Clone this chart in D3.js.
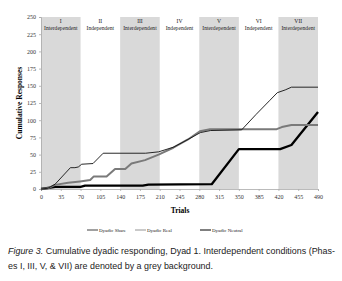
<!DOCTYPE html>
<html>
<head>
<meta charset="utf-8">
<script src="https://cdn.jsdelivr.net/npm/d3@7"></script>
<style>
  body { margin: 0; background: #fff; }
  svg { display: block; }
</style>
</head>
<body>
<div id="chart"></div>
<script>
// phases (70 trials each)
const phaseNames = ['I','II','III','IV','V','VI','VII'];
const phaseTypes = ['Interdependent','Independent','Interdependent','Independent','Interdependent','Independent','Interdependent'];
const xTicks = [0,35,70,105,140,175,210,245,280,315,350,385,420,455,490];
const yTicks = [0,25,50,75,100,125,150,175,200,225,250];

// series
const shareTrials = [0,12,25,52,60,66,72,92,110,185,208,235,260,282,300,355,380,405,418,432,443,490];
const shareValues = [0,1,7,31,31,32,36,37,52,52,54,61,72,82,85,86,108,129,140,144,148,148];
const realTrials = [0,12,25,48,69,87,93,116,131,149,160,184,208,234,260,281,299,417,426,443,490];
const realValues = [0,1,6,9,11,13,18,18,29,29,37,42,50,60,72,84,87,87,90,93,93];
const neutralTrials = [0,25,70,78,180,190,302,350,423,443,490];
const neutralValues = [0,3,3,5,5,6.5,7,58,58,64,112];

const W = 342, H = 281;
const svg = d3.select('#chart').append('svg').attr('width', W).attr('height', H);

var x = d3.scaleLinear().domain([0, 490]).range([41, 318]);
var y = d3.scaleLinear().domain([0, 250]).range([189, 17]);

// grey backgrounds for interdependent phases
svg.selectAll('.band')
  .data(phaseNames.map((p, i) => ({p: p, i: i})).filter(d => d.i % 2 === 0))
  .enter().append('rect')
    .attr('x', d => x(d.i * 70))
    .attr('width', d => x((d.i + 1) * 70) - x(d.i * 70))
    .attr('y', y(250))
    .attr('height', y(0) - y(250))
    .attr('fill', '#d9d9d9');

// phase labels
var lab = svg.selectAll('.phase')
  .data(phaseNames)
  .enter().append('g')
    .attr('transform', (d, i) => 'translate(' + x(i * 70 + 35) + ',0)');
lab.append('text').attr('y', 23).text(d => d);
lab.append('text').attr('y', 29.5).text((d, i) => phaseTypes[i]);
lab.selectAll('text')
  .attr('text-anchor', 'middle')
  .style('font-family', 'Liberation Serif, serif')
  .style('font-size', '5.6px')
  .style('fill', '#222');

// axes
var yAxis = svg.append('g')
  .attr('transform', 'translate(' + x(0) + ',0)')
  .call(d3.axisLeft(y).tickValues(yTicks).tickSize(2).tickPadding(3));
var xAxis = svg.append('g')
  .attr('transform', 'translate(0,' + y(0) + ')')
  .call(d3.axisBottom(x).tickValues(xTicks).tickSize(2).tickPadding(4));
[yAxis, xAxis].forEach(a => {
  a.select('.domain').attr('stroke', '#aaa').attr('stroke-width', 0.8);
  a.selectAll('.tick line').attr('stroke', '#aaa').attr('stroke-width', 0.8);
  a.selectAll('text')
    .style('font-family', 'Liberation Serif, serif')
    .style('font-size', '6px')
    .style('fill', '#333');
});

// lines
var line = d3.line().x(d => x(d[0])).y(d => y(d[1]));
const series = [
  {name: 'Dyadic Share', t: shareTrials, v: shareValues, color: '#111', w: 0.9, lw: 0.8},
  {name: 'Dyadic Real', t: realTrials, v: realValues, color: '#7a7a7a', w: 2, lw: 0.8},
  {name: 'Dyadic Neutral', t: neutralTrials, v: neutralValues, color: '#000', w: 2.3, lw: 1}
];
[series[2], series[1], series[0]].forEach(s => {
  svg.append('path')
    .datum(s.t.map((t, i) => [t, s.v[i]]))
    .attr('d', line)
    .attr('fill', 'none')
    .attr('stroke', s.color)
    .attr('stroke-width', s.w)
    .attr('stroke-linejoin', 'round');
});

// axis titles
svg.append('text')
  .attr('transform', 'translate(22,' + y(125) + ') rotate(-90)')
  .attr('text-anchor', 'middle')
  .style('font-family', 'Liberation Serif, serif')
  .style('font-weight', 'bold')
  .style('font-size', '7.5px')
  .text('Cumulative Responses');
svg.append('text')
  .attr('x', 180).attr('y', 213)
  .attr('text-anchor', 'middle')
  .style('font-family', 'Liberation Serif, serif')
  .style('font-weight', 'bold')
  .style('font-size', '7.5px')
  .text('Trials');

// legend
const legX = [87, 135, 200];
var leg = svg.selectAll('.leg')
  .data(series)
  .enter().append('g')
    .attr('transform', (d, i) => 'translate(' + legX[i] + ',230)');
leg.append('line')
  .attr('x1', 0).attr('x2', 11).attr('y1', 0).attr('y2', 0)
  .attr('stroke', d => d.color)
  .attr('stroke-width', d => d.lw);
leg.append('text')
  .attr('x', 12).attr('y', 1.8)
  .style('font-family', 'Liberation Serif, serif')
  .style('font-size', '5px')
  .style('fill', '#222')
  .text(d => d.name);

// caption (condensed face not installed, so squeeze to the original width)
function capStyle(t) {
  t.style('font-family', 'Liberation Sans, Arial, sans-serif')
   .style('font-size', '9.4px')
   .style('fill', '#222')
   .attr('lengthAdjust', 'spacingAndGlyphs');
}
var l1 = svg.append('text')
  .attr('x', 8).attr('y', 254)
  .attr('textLength', 327)
  .call(capStyle);
l1.append('tspan').style('font-style', 'italic').text('Figure 3.');
l1.append('tspan').text(' Cumulative dyadic responding, Dyad 1. Interdependent conditions (Phas-');
svg.append('text')
  .attr('x', 8).attr('y', 269)
  .attr('textLength', 205)
  .call(capStyle)
  .text('es I, III, V, & VII) are denoted by a grey background.');
</script>
</body>
</html>
